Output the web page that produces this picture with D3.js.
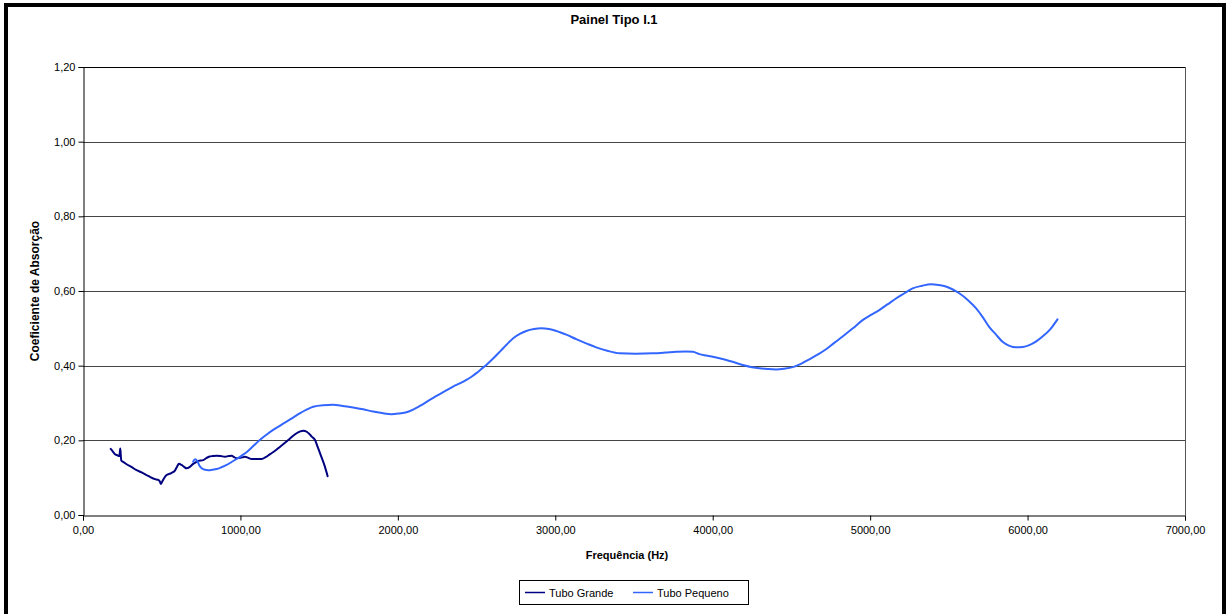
<!DOCTYPE html>
<html>
<head>
<meta charset="utf-8">
<script src="https://cdn.jsdelivr.net/npm/d3@7/dist/d3.min.js"></script>
<style>
  html, body { margin: 0; padding: 0; background: #fff; }
  svg { display: block; font-family: "Liberation Sans", Arial, sans-serif; }
</style>
</head>
<body>
<svg id="chart" width="1227" height="614"></svg>
<script>
const title = "Painel Tipo I.1";
const xLabel = "Frequência (Hz)";
const yLabel = "Coeficiente de Absorção";
const xTicks = [0, 1000, 2000, 3000, 4000, 5000, 6000, 7000];
const yTicks = [0, 0.2, 0.4, 0.6, 0.8, 1.0, 1.2];
const seriesNames = ["Tubo Grande", "Tubo Pequeno"];
const seriesColors = ["#000080", "#3366FF"];

// Tubo Grande: [frequency Hz, coefficient]
const tuboGrande = [
  [176,0.177],[190,0.170],[203,0.163],[218,0.160],[231,0.158],[235,0.172],[237,0.178],[240,0.160],[243,0.146],
  [260,0.141],[277,0.136],[310,0.128],[340,0.120],[372,0.114],[404,0.107],[430,0.101],[457,0.096],[478,0.094],
  [488,0.090],[495,0.083],[505,0.091],[514,0.098],[531,0.107],[548,0.110],[563,0.113],[584,0.119],[598,0.130],
  [609,0.137],[626,0.134],[642,0.129],[658,0.125],[679,0.129],[700,0.137],[716,0.141],[732,0.145],[764,0.147],
  [782,0.152],[800,0.156],[825,0.158],[849,0.159],[875,0.158],[902,0.156],[925,0.158],[944,0.159],[960,0.155],
  [976,0.152],[1000,0.153],[1029,0.156],[1050,0.153],[1072,0.150],[1100,0.150],[1135,0.150],[1160,0.155],
  [1188,0.163],[1220,0.172],[1252,0.183],[1285,0.194],[1315,0.205],[1337,0.213],[1357,0.219],[1380,0.224],
  [1400,0.226],[1421,0.223],[1438,0.217],[1453,0.210],[1474,0.201],[1490,0.183],[1506,0.165],[1522,0.147],
  [1537,0.129],[1554,0.104]
];

// Tubo Pequeno: [frequency Hz, coefficient]
const tuboPequeno = [
  [700,0.143],[712,0.149],[725,0.145],[740,0.132],[754,0.125],[775,0.121],[796,0.120],[820,0.121],[849,0.123],
  [880,0.128],[912,0.134],[944,0.142],[976,0.150],[1008,0.159],[1039,0.168],[1080,0.184],[1123,0.201],
  [1165,0.215],[1208,0.228],[1250,0.239],[1293,0.250],[1335,0.261],[1377,0.272],[1420,0.282],[1462,0.290],
  [1525,0.294],[1589,0.295],[1650,0.292],[1716,0.288],[1780,0.283],[1843,0.277],[1900,0.273],[1959,0.270],
  [2010,0.272],[2055,0.275],[2100,0.283],[2139,0.292],[2190,0.305],[2245,0.319],[2300,0.332],[2351,0.344],
  [2400,0.354],[2435,0.362],[2470,0.371],[2499,0.380],[2530,0.391],[2562,0.402],[2605,0.419],[2647,0.437],
  [2690,0.456],[2731,0.473],[2775,0.485],[2816,0.493],[2865,0.498],[2911,0.500],[2960,0.498],[3007,0.493],
  [3070,0.483],[3133,0.471],[3200,0.459],[3260,0.449],[3330,0.440],[3408,0.433],[3510,0.432],[3620,0.433],
  [3700,0.435],[3768,0.437],[3830,0.438],[3874,0.437],[3916,0.431],[3960,0.427],[4043,0.420],[4120,0.411],
  [4191,0.402],[4250,0.396],[4297,0.393],[4350,0.391],[4403,0.390],[4455,0.392],[4508,0.396],[4560,0.405],
  [4614,0.417],[4668,0.430],[4720,0.444],[4772,0.461],[4825,0.478],[4890,0.500],[4952,0.522],[5005,0.536],
  [5058,0.549],[5110,0.564],[5164,0.580],[5218,0.594],[5270,0.607],[5330,0.614],[5386,0.618],[5435,0.616],
  [5481,0.612],[5525,0.604],[5566,0.594],[5620,0.576],[5672,0.554],[5715,0.530],[5756,0.504],[5800,0.483],
  [5841,0.464],[5885,0.453],[5926,0.449],[5970,0.450],[6011,0.455],[6055,0.465],[6095,0.478],[6145,0.498],
  [6190,0.524]
];

const svg = d3.select("#chart");
const plot = { left: 83, top: 67, right: 1185, bottom: 515 };

// outer frame
svg.append("rect").attr("x", 6).attr("y", 5).attr("width", 1218).attr("height", 640)
  .attr("fill", "none").attr("stroke", "#000").attr("stroke-width", 4);

const x = d3.scaleLinear().domain([0, 7000]).range([plot.left, plot.right]);
const y = d3.scaleLinear().domain([0, 1.2]).range([plot.bottom, plot.top]);

const fmt = d => d3.format(".2f")(d).replace(".", ",");

// gridlines
svg.append("g").selectAll("line").data(yTicks.filter(d => d > 0)).join("line")
  .attr("x1", plot.left).attr("x2", plot.right)
  .attr("y1", d => Math.round(y(d)) + 0.5).attr("y2", d => Math.round(y(d)) + 0.5)
  .attr("stroke", d => d === 1.2 ? "#000" : "#444").attr("stroke-width", 1);

// right border of plot area
svg.append("line").attr("x1", plot.right + 0.5).attr("x2", plot.right + 0.5)
  .attr("y1", plot.top).attr("y2", plot.bottom).attr("stroke", "#555").attr("stroke-width", 1);

// axes
const xAxis = d3.axisBottom(x).tickValues(xTicks).tickFormat(fmt).tickSizeOuter(0).tickSize(5).tickPadding(6);
const gx = svg.append("g").attr("transform", `translate(0,${Math.round(y(0)) + 0.5})`).call(xAxis);
const yAxis = d3.axisLeft(y).tickValues(yTicks).tickFormat(fmt).tickSizeOuter(0).tickSize(5).tickPadding(3);
const gy = svg.append("g").attr("transform", `translate(${plot.left + 0.5},0)`).call(yAxis);
[gx, gy].forEach(g => {
  g.selectAll("text").attr("font-size", 11).attr("fill", "#000")
    .attr("font-family", "'Liberation Sans', Arial, sans-serif");
  g.selectAll("line, path").attr("stroke", "#000");
});

// lines
const line = d3.line().x(d => x(d[0])).y(d => y(d[1])).curve(d3.curveMonotoneX);
[tuboGrande, tuboPequeno].forEach((data, i) => {
  svg.append("path").datum(data).attr("d", line)
    .attr("fill", "none").attr("stroke", seriesColors[i]).attr("stroke-width", 2)
    .attr("stroke-linejoin", "round").attr("stroke-linecap", "round");
});

// title and labels
svg.append("text").attr("x", 614).attr("y", 24).attr("text-anchor", "middle")
  .attr("font-size", 13).attr("font-weight", "bold").text(title);
svg.append("text").attr("x", 627).attr("y", 559).attr("text-anchor", "middle")
  .attr("font-size", 11).attr("font-weight", "bold").text(xLabel);
svg.append("text").attr("transform", `translate(39,${(plot.top + plot.bottom) / 2}) rotate(-90)`)
  .attr("text-anchor", "middle").attr("font-size", 12).attr("font-weight", "bold").text(yLabel);

// legend
const lg = svg.append("g");
lg.append("rect").attr("x", 519.5).attr("y", 580.5).attr("width", 229).attr("height", 24)
  .attr("fill", "#fff").attr("stroke", "#000").attr("stroke-width", 1);
const legendX = [525, 633];
seriesNames.forEach((n, i) => {
  lg.append("line").attr("x1", legendX[i]).attr("x2", legendX[i] + 20)
    .attr("y1", 592.5).attr("y2", 592.5).attr("stroke", seriesColors[i]).attr("stroke-width", 1.5);
  lg.append("text").attr("x", legendX[i] + 24).attr("y", 596.5).attr("font-size", 11).text(n);
});
</script>
</body>
</html>
